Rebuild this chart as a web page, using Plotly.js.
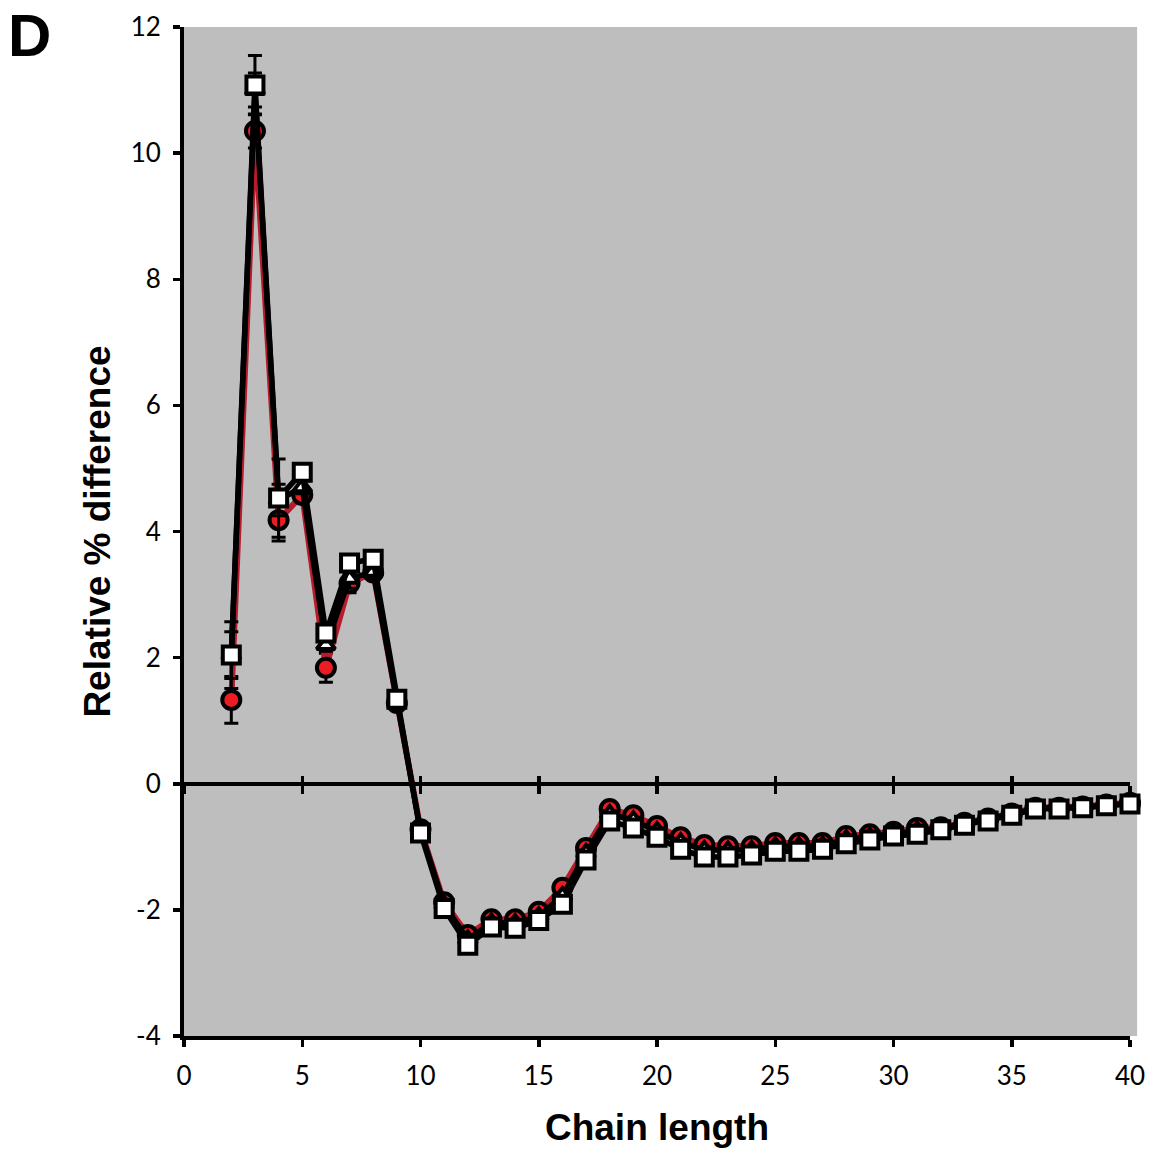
<!DOCTYPE html>
<html>
<head>
<meta charset="utf-8">
<script src="https://cdn.plot.ly/plotly-3.0.1.min.js"></script>
<style>html,body{margin:0;padding:0;background:#fff;}#chart{width:1152px;height:1153px;}</style>
</head>
<body>
<div id="chart"></div>
<script>
var chainLength = [2,3,4,5,6,7,8,9,10,11,12,13,14,15,16,17,18,19,20,21,22,23,24,25,26,27,28,29,30,31,32,33,34,35,36,37,38,39,40];

var circleValues = [1.33,10.35,4.18,4.58,1.84,3.18,3.35,1.28,-0.72,-1.88,-2.40,-2.15,-2.15,-2.03,-1.65,-1.02,-0.40,-0.50,-0.67,-0.85,-0.97,-0.99,-0.99,-0.94,-0.94,-0.94,-0.83,-0.80,-0.76,-0.70,-0.69,-0.62,-0.55,-0.47,-0.38,-0.38,-0.36,-0.33,-0.30];
var circleErrors = [0.37,0.27,0.33,0.10,0.23,0.15,0.10,0.05,0.05,0.05,0.05,0.05,0.05,0.05,0.05,0.05,0.05,0.05,0.05,0.05,0.05,0.05,0.05,0.05,0.05,0.05,0.05,0.05,0.05,0.05,0.05,0.05,0.05,0.05,0.05,0.05,0.05,0.05,0.05];

var triangleValues = [2.04,11.00,4.50,4.70,2.20,3.25,3.36,1.30,-0.74,-1.92,-2.47,-2.20,-2.21,-2.10,-1.78,-1.10,-0.48,-0.58,-0.75,-0.93,-1.05,-1.06,-1.05,-0.99,-0.99,-0.98,-0.88,-0.84,-0.79,-0.74,-0.70,-0.63,-0.56,-0.48,-0.39,-0.39,-0.37,-0.34,-0.31];
var triangleErrors = [0.37,0.27,0.25,0.10,0.10,0.15,0.10,0.05,0.05,0.05,0.05,0.05,0.05,0.05,0.05,0.05,0.05,0.05,0.05,0.05,0.05,0.05,0.05,0.05,0.05,0.05,0.05,0.05,0.05,0.05,0.05,0.05,0.05,0.05,0.05,0.05,0.05,0.05,0.05];

var squareValues = [2.04,11.08,4.53,4.94,2.39,3.50,3.56,1.34,-0.78,-1.98,-2.56,-2.27,-2.29,-2.17,-1.91,-1.21,-0.59,-0.70,-0.85,-1.04,-1.16,-1.16,-1.13,-1.07,-1.07,-1.04,-0.95,-0.89,-0.83,-0.80,-0.73,-0.66,-0.59,-0.50,-0.40,-0.40,-0.38,-0.35,-0.32];
var squareErrors = [0.53,0.47,0.62,0.10,0.08,0.08,0.08,0.05,0.05,0.05,0.05,0.05,0.05,0.05,0.05,0.05,0.05,0.05,0.05,0.05,0.05,0.05,0.05,0.05,0.05,0.05,0.05,0.05,0.05,0.05,0.05,0.05,0.05,0.05,0.05,0.05,0.05,0.05,0.05];

var xTicks = [0,5,10,15,20,25,30,35,40];
var yTicks = [-4,-2,0,2,4,6,8,10,12];

function errBar(arr){
  return {type:'data', array:arr, visible:true, color:'#000', thickness:3, width:7};
}

var traces = [
  {
    x: chainLength, y: circleValues, type:'scatter', mode:'lines+markers',
    line:{color:'#b71c2a', width:6},
    marker:{symbol:'circle', size:18, color:'#ec1c24', line:{color:'#000', width:4}},
    error_y: errBar(circleErrors), cliponaxis:false
  },
  {
    x: chainLength, y: triangleValues, type:'scatter', mode:'lines+markers',
    line:{color:'#000', width:5.5},
    marker:{symbol:'triangle-up', size:16, color:'#fff', line:{color:'#000', width:4}},
    error_y: errBar(triangleErrors), cliponaxis:false
  },
  {
    x: chainLength, y: squareValues, type:'scatter', mode:'lines+markers',
    line:{color:'#000', width:5.5},
    marker:{symbol:'square', size:17, color:'#fff', line:{color:'#000', width:4}},
    error_y: errBar(squareErrors), cliponaxis:false
  }
];

var tickFont = {family:'Lato, "Open Sans", sans-serif', size:26, color:'#000'};
var titleFont = {family:'"Liberation Sans", Arial, sans-serif', size:37, color:'#000', weight:'bold'};

var layout = {
  width:1152, height:1153,
  margin:{l:184, r:22, t:27, b:117, pad:0},
  paper_bgcolor:'#fff',
  plot_bgcolor:'rgba(0,0,0,0)',
  showlegend:false,
  xaxis:{
    range:[0,40], tickvals:xTicks, ticktext:xTicks.map(String),
    showgrid:false, zeroline:false, showline:true, linecolor:'#000', linewidth:4,
    ticks:'outside', ticklen:7, tickwidth:3.5, tickcolor:'#000',
    tickfont:tickFont, ticklabelstandoff:7,
    title:{text:'<b>Chain length</b>', font:titleFont, standoff:25}
  },
  xaxis2:{
    overlaying:'x', anchor:'free', position:0.25, range:[0,40], tickvals:xTicks,
    showticklabels:false, showgrid:false, zeroline:false, showline:true, linecolor:'#000', linewidth:4,
    ticks:'outside', ticklen:8, tickwidth:3.5, tickcolor:'#000'
  },
  xaxis3:{
    overlaying:'x', anchor:'free', position:0.25, range:[0,40], tickvals:xTicks,
    showticklabels:false, showgrid:false, zeroline:false, showline:false,
    ticks:'inside', ticklen:8, tickwidth:3.5, tickcolor:'#000'
  },
  yaxis:{
    range:[-4,12], tickvals:yTicks, ticktext:yTicks.map(String),
    showgrid:false, zeroline:false, showline:true, linecolor:'#000', linewidth:4,
    ticks:'outside', ticklen:7, tickwidth:3.5, tickcolor:'#000',
    tickfont:tickFont, ticklabelstandoff:7,
    title:{text:'<b>Relative % difference</b>', font:titleFont, standoff:10}
  },
  shapes:[
    {type:'rect', xref:'paper', yref:'paper', x0:0, x1:1.0075, y0:0, y1:1, fillcolor:'#bebebe', line:{width:0}, layer:'below'}
  ],
  annotations:[
    {text:'<b>D</b>', xref:'paper', yref:'paper', x:-0.188, y:1.027, xanchor:'left', yanchor:'top', showarrow:false,
     font:{family:'"Liberation Sans", Arial, sans-serif', size:60, color:'#000'}}
  ]
};

traces.push({x:[0], y:[0], xaxis:'x2', type:'scatter', mode:'markers', marker:{opacity:0}, hoverinfo:'skip'});
traces.push({x:[0], y:[0], xaxis:'x3', type:'scatter', mode:'markers', marker:{opacity:0}, hoverinfo:'skip'});
traces = traces.slice(3).concat(traces.slice(0,3));

Plotly.newPlot('chart', traces, layout, {staticPlot:true});
</script>
</body>
</html>
